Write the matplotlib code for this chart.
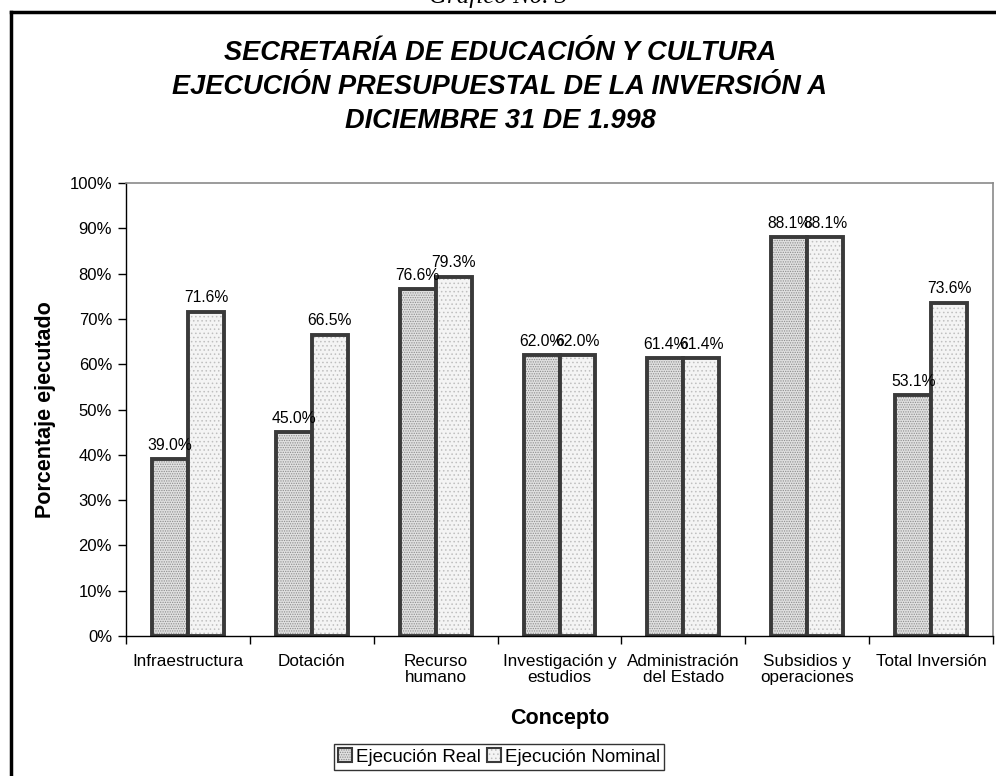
import matplotlib
matplotlib.use("Agg")
import matplotlib.pyplot as plt
import numpy as np
from matplotlib.lines import Line2D

plt.rcParams['font.family'] = ['Liberation Sans', 'DejaVu Sans']
plt.rcParams['hatch.linewidth'] = 0.6

categories = ["Infraestructura", "Dotación", "Recurso\nhumano", "Investigación y\nestudios",
              "Administración\ndel Estado", "Subsidios y\noperaciones", "Total Inversión"]
ejec_real = [39.0, 45.0, 76.6, 62.0, 61.4, 88.1, 53.1]
ejec_nominal = [71.6, 66.5, 79.3, 62.0, 61.4, 88.1, 73.6]
series_names = ["Ejecución Real", "Ejecución Nominal"]
yticks = [0, 10, 20, 30, 40, 50, 60, 70, 80, 90, 100]

fig = plt.figure(figsize=(9.96, 7.76), dpi=100)

# outer frame (left + top lines)
fig.add_artist(Line2D([10.5/996, 10.5/996], [0, 1 - 11.5/776], color='black', lw=2.5))
fig.add_artist(Line2D([10.5/996, 1], [1 - 11.5/776, 1 - 11.5/776], color='black', lw=2.5))
fig.text(0.5, 1 - (-3)/776, "Gráfico No. 3", ha='center', va='center', fontsize=18,
         style='italic', family=['Liberation Serif', 'DejaVu Serif'])

fig.text(0.502, 1 - 87/776,
         "SECRETARÍA DE EDUCACIÓN Y CULTURA\nEJECUCIÓN PRESUPUESTAL DE LA INVERSIÓN A\nDICIEMBRE 31 DE 1.998",
         ha='center', va='center', fontsize=19.5, fontweight='bold', style='italic', linespacing=1.42)

ax = fig.add_axes([126/996, 1 - 636/776, (993 - 126)/996, (636 - 183)/776])
x = np.arange(len(categories))
w = 0.29
b1 = ax.bar(x - w/2, ejec_real, w, facecolor='#e0e0e0', edgecolor='#3a3a3a', linewidth=2.8,
            hatch='.......', label=series_names[0])
b2 = ax.bar(x + w/2, ejec_nominal, w, facecolor='#f4f4f4', edgecolor='#3a3a3a', linewidth=2.8,
            hatch='....', label=series_names[1])
for bar in b1:
    bar._hatch_color = (0.55, 0.55, 0.55, 1)
for bar in b2:
    bar._hatch_color = (0.75, 0.75, 0.75, 1)

for bars, vals in ((b1, ejec_real), (b2, ejec_nominal)):
    for bar, v in zip(bars, vals):
        ax.text(bar.get_x() + bar.get_width()/2, v + 1.4, f"{v:.1f}%", ha='center', va='bottom',
                fontsize=11.3)

ax.set_xlim(-0.5, len(categories) - 0.5)
ax.set_ylim(0, 100)
ax.set_yticks(yticks)
ax.set_yticklabels([f"{t}%" for t in yticks], fontsize=12)
ax.set_xticks(x)
ax.set_xticklabels(categories, fontsize=12.3, linespacing=1.05)
ax.tick_params(axis='x', length=0, pad=13)
ax.set_xticks(np.arange(-0.5, len(categories) + 0.5, 1), minor=True)
ax.tick_params(axis='x', which='minor', length=6, width=1, direction='out')
ax.tick_params(axis='y', length=6, width=1, direction='out', pad=4)

for s in ('top', 'right'):
    ax.spines[s].set_color('#8a8a8a')
    ax.spines[s].set_linewidth(1.2)
for s in ('left', 'bottom'):
    ax.spines[s].set_color('black')
    ax.spines[s].set_linewidth(1.0)

ax.set_ylabel("Porcentaje ejecutado", fontsize=15.5, fontweight='bold', labelpad=10)
ax.set_xlabel("Concepto", fontsize=15.5, fontweight='bold', labelpad=17)

leg = fig.legend(handles=[b1, b2], labels=series_names, loc='center',
                 bbox_to_anchor=(499/996, 1 - 757/776), ncol=2, fontsize=13.5,
                 frameon=True, fancybox=False, handlelength=0.75, handleheight=0.75,
                 handletextpad=0.2, columnspacing=0.3, borderpad=0.25, borderaxespad=0)
leg.get_frame().set_edgecolor('black')
leg.get_frame().set_linewidth(1.0)
for h in leg.legend_handles:
    h.set_linewidth(1.5)

fig.savefig("out.png", dpi=100)
